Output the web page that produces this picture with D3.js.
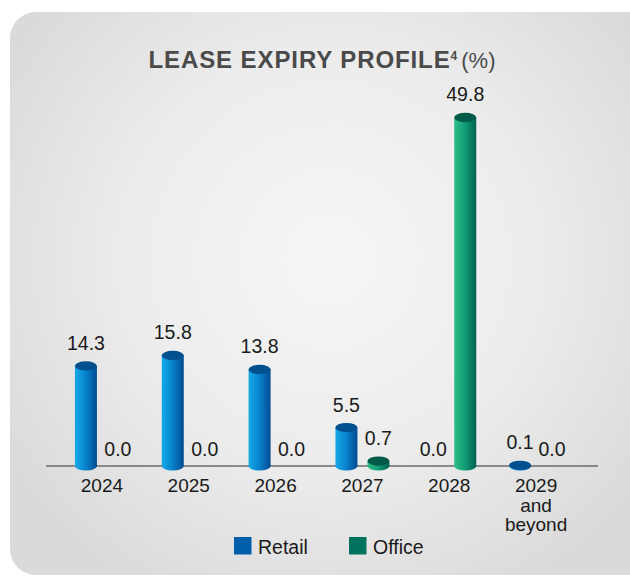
<!DOCTYPE html>
<html>
<head>
<meta charset="utf-8">
<script src="https://cdn.jsdelivr.net/npm/d3@7"></script>
<style>
  html, body { margin: 0; padding: 0; background: #ffffff; }
  svg { display: block; }
  text { font-family: "Liberation Sans", Arial, sans-serif; }
</style>
</head>
<body>
<svg id="chart" width="630" height="576"></svg>
<script>
// Lease expiry profile by year, % of gross rental income
const categories = ["2024", "2025", "2026", "2027", "2028", "2029 and beyond"];
const seriesNames = ["Retail", "Office"];
const retailValues = [14.3, 15.8, 13.8, 5.5, 0.0, 0.1];
const officeValues = [0.0, 0.0, 0.0, 0.7, 49.8, 0.0];
const categoryLines = [["2024"], ["2025"], ["2026"], ["2027"], ["2028"], ["2029", "and", "beyond"]];

const W = 630, H = 576;
const baseY = 466;

const svg = d3.select("#chart");
const defs = svg.append("defs");

// panel background: soft radial light in the middle fading to grey
const bg = defs.append("radialGradient").attr("id", "panelGrad")
  .attr("gradientUnits", "userSpaceOnUse")
  .attr("cx", 330).attr("cy", 260).attr("r", 380);
bg.append("stop").attr("offset", "0").attr("stop-color", "#f6f6f6");
bg.append("stop").attr("offset", "0.55").attr("stop-color", "#ececec");
bg.append("stop").attr("offset", "1").attr("stop-color", "#dadada");

svg.append("rect")
  .attr("x", 10).attr("y", 12)
  .attr("width", 660).attr("height", 563)
  .attr("rx", 26).attr("ry", 26)
  .attr("fill", "url(#panelGrad)");

// cylinder shading
const palette = {
  Retail: { stops: ["#14aae6", "#0a86d0", "#014a93"], top: "#00508f", legend: "#005eab" },
  Office: { stops: ["#30bd88", "#11a077", "#00624f"], top: "#005a49", legend: "#00735f" }
};
seriesNames.forEach(s => {
  const g = defs.append("linearGradient").attr("id", "grad" + s)
    .attr("x1", "0").attr("x2", "1").attr("y1", "0").attr("y2", "0");
  g.append("stop").attr("offset", "0").attr("stop-color", palette[s].stops[0]);
  g.append("stop").attr("offset", "0.45").attr("stop-color", palette[s].stops[1]);
  g.append("stop").attr("offset", "1").attr("stop-color", palette[s].stops[2]);
});

// title
const title = svg.append("text")
  .attr("x", 322).attr("y", 68)
  .attr("text-anchor", "middle")
  .attr("fill", "#4a4a4a");
title.append("tspan").attr("font-size", 24).attr("font-weight", "bold")
  .attr("letter-spacing", 0.9).text("LEASE EXPIRY PROFILE");
title.append("tspan").attr("font-size", 12).attr("font-weight", "bold").attr("dy", -8).text("4");
title.append("tspan").attr("font-size", 22).attr("dy", 8).attr("dx", 4).text("(%)");

// scales
const x0 = d3.scaleBand().domain(categories).range([58.5, 579.5]);
const x1 = d3.scaleBand().domain(seriesNames)
  .range([x0.bandwidth() / 2 - 27, x0.bandwidth() / 2 + 27])
  .paddingInner(0.3125);
const y = d3.scaleLinear().domain([0, 50]).range([baseY, baseY - 350]);

const rows = categories.map((c, i) => ({
  category: c,
  values: [
    { series: "Retail", value: retailValues[i] },
    { series: "Office", value: officeValues[i] }
  ]
}));

// baseline
svg.append("line")
  .attr("x1", 46).attr("x2", 598)
  .attr("y1", baseY).attr("y2", baseY)
  .attr("stroke", "#6a6a6a").attr("stroke-width", 1.5);

// category axis
const axis = svg.append("g")
  .attr("transform", `translate(0,${baseY})`)
  .call(d3.axisBottom(x0).tickSize(0).tickPadding(0));
axis.select(".domain").remove();
axis.selectAll(".tick text").each(function (d, i) {
  const t = d3.select(this);
  t.text(null).attr("y", 0).attr("dy", null)
    .attr("font-size", 19).attr("fill", "#1a1a1a")
    .attr("font-family", "Liberation Sans, Arial, sans-serif");
  categoryLines[i].forEach((line, k) => {
    t.append("tspan").attr("x", 0).attr("y", 26 + k * 19.5).text(line);
  });
});

const rx = x1.bandwidth() / 2, ry = 4.6;

const groups = svg.append("g").selectAll("g.group")
  .data(rows).join("g")
  .attr("class", "group")
  .attr("transform", d => `translate(${x0(d.category)},0)`);

const bars = groups.selectAll("g.bar")
  .data(d => d.values).join("g")
  .attr("class", "bar");

const drawn = bars.filter(d => d.value > 0);
// bottom cap
drawn.append("ellipse")
  .attr("cx", d => x1(d.series) + rx)
  .attr("cy", y(0))
  .attr("rx", rx).attr("ry", ry)
  .attr("fill", d => `url(#grad${d.series})`);
// body
drawn.append("rect")
  .attr("x", d => x1(d.series))
  .attr("y", d => y(d.value))
  .attr("width", x1.bandwidth())
  .attr("height", d => y(0) - y(d.value))
  .attr("fill", d => `url(#grad${d.series})`);
// top cap
drawn.append("ellipse")
  .attr("cx", d => x1(d.series) + rx)
  .attr("cy", d => y(d.value))
  .attr("rx", rx).attr("ry", ry)
  .attr("fill", d => palette[d.series].top);

// value labels
bars.append("text")
  .attr("x", d => x1(d.series) + rx)
  .attr("y", d => y(d.value) - (d.value > 0 ? 16 : 10))
  .attr("text-anchor", "middle")
  .attr("font-size", 19.5)
  .attr("fill", "#1a1a1a")
  .text(d => d3.format(".1f")(d.value));

// legend
const legendPos = { Retail: 234, Office: 349 };
const legend = svg.append("g").selectAll("g")
  .data(seriesNames).join("g")
  .attr("transform", d => `translate(${legendPos[d]},537)`);
legend.append("rect")
  .attr("width", 17.5).attr("height", 17.5)
  .attr("fill", d => palette[d].legend);
legend.append("text")
  .attr("x", 24).attr("y", 17)
  .attr("font-size", 19.5)
  .attr("fill", "#1a1a1a")
  .text(d => d);
</script>
</body>
</html>
